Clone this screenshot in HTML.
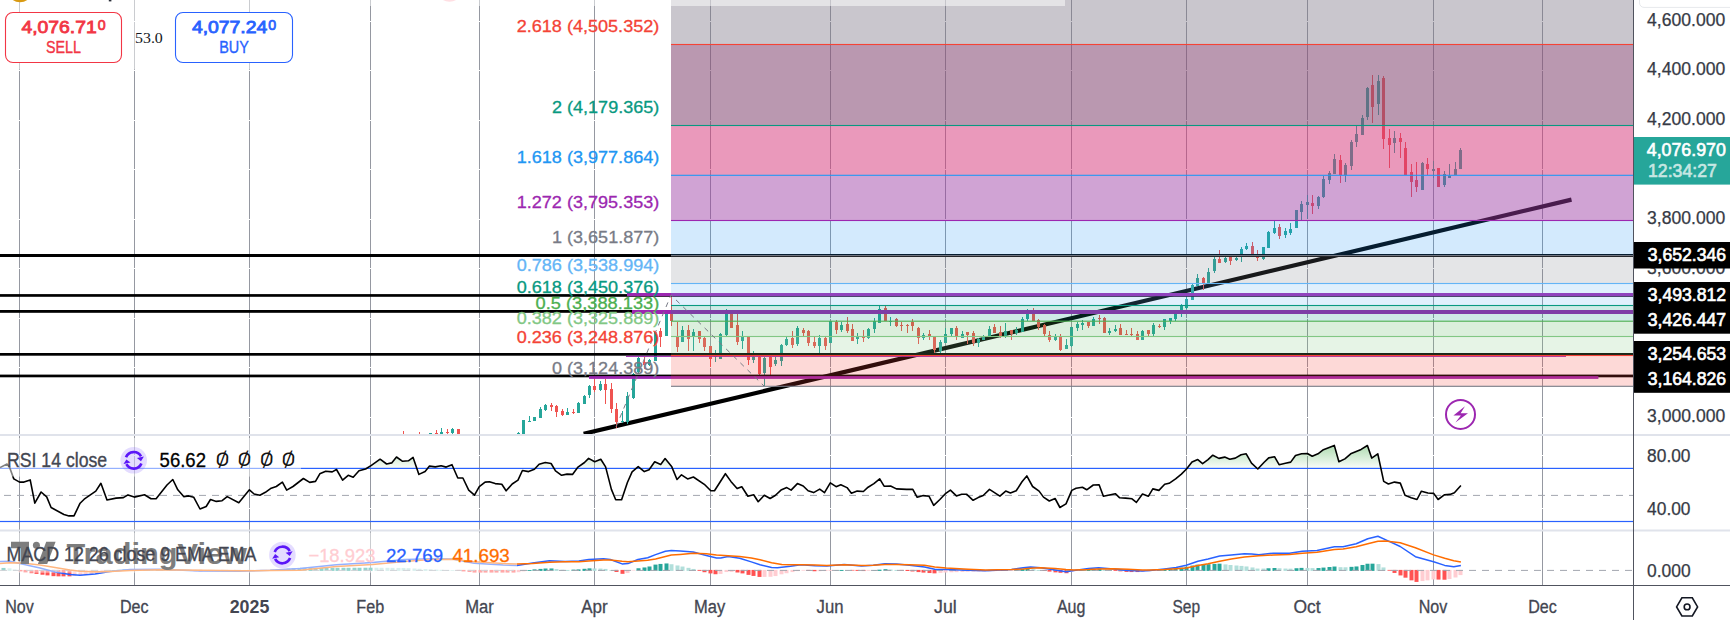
<!DOCTYPE html>
<html lang="en"><head><meta charset="utf-8"><title>Chart</title>
<style>html,body{margin:0;padding:0;background:#fff;overflow:hidden}svg{display:block}</style></head>
<body>
<svg width="1730" height="620" viewBox="0 0 1730 620" shape-rendering="auto">
<defs>
<linearGradient id="rsig" x1="0" y1="436" x2="0" y2="468.5" gradientUnits="userSpaceOnUse"><stop offset="0" stop-color="#4caf50" stop-opacity="0.62"/><stop offset="1" stop-color="#4caf50" stop-opacity="0.03"/></linearGradient>
<clipPath id="cpMain"><rect x="0" y="0" width="1633" height="434"/></clipPath>
<clipPath id="cpRsi"><rect x="0" y="436" width="1633" height="94"/></clipPath>
<clipPath id="cpRsiTop"><rect x="0" y="436" width="1633" height="32.4"/></clipPath>
<clipPath id="cpMacd"><rect x="0" y="531" width="1633" height="54"/></clipPath>
</defs>
<rect width="1730" height="620" fill="#fff"/>
<rect x="19" y="0" width="1" height="585" fill="#9598a1"/>
<rect x="134" y="0" width="1" height="585" fill="#9598a1"/>
<rect x="249" y="0" width="1" height="585" fill="#9598a1"/>
<rect x="370" y="0" width="1" height="585" fill="#9598a1"/>
<rect x="479" y="0" width="1" height="585" fill="#9598a1"/>
<rect x="594" y="0" width="1" height="585" fill="#9598a1"/>
<rect x="710" y="0" width="1" height="585" fill="#9598a1"/>
<rect x="830" y="0" width="1" height="585" fill="#9598a1"/>
<rect x="945" y="0" width="1" height="585" fill="#9598a1"/>
<rect x="1071" y="0" width="1" height="585" fill="#9598a1"/>
<rect x="1186" y="0" width="1" height="585" fill="#9598a1"/>
<rect x="1307" y="0" width="1" height="585" fill="#9598a1"/>
<rect x="1433" y="0" width="1" height="585" fill="#9598a1"/>
<rect x="1542" y="0" width="1" height="585" fill="#9598a1"/>
<rect x="0" y="417" width="1633" height="1" fill="#fff"/>
<rect x="0" y="367" width="1633" height="1" fill="#fff"/>
<rect x="0" y="318" width="1633" height="1" fill="#fff"/>
<rect x="0" y="268" width="1633" height="1" fill="#fff"/>
<rect x="0" y="219" width="1633" height="1" fill="#fff"/>
<rect x="0" y="169" width="1633" height="1" fill="#fff"/>
<rect x="0" y="120" width="1633" height="1" fill="#fff"/>
<rect x="0" y="70" width="1633" height="1" fill="#fff"/>
<rect x="0" y="21" width="1633" height="1" fill="#fff"/>
<rect x="0" y="455" width="1633" height="1" fill="#fff"/>
<rect x="0" y="508" width="1633" height="1" fill="#fff"/>
<g clip-path="url(#cpMain)">
<line x1="583.6" y1="433.8" x2="1571.5" y2="199.66" stroke="#000" stroke-width="4.2" stroke-linecap="butt"/>
<g shape-rendering="crispEdges">
<rect x="403" y="431" width="1" height="3" fill="#ef5350"/>
<rect x="419" y="432" width="1" height="2" fill="#ef5350"/>
<rect x="430" y="433" width="1" height="1" fill="#26a69a"/>
<rect x="429" y="433" width="3" height="1" fill="#26a69a"/>
<rect x="436" y="430" width="1" height="4" fill="#ef5350"/>
<rect x="435" y="433" width="3" height="1" fill="#ef5350"/>
<rect x="441" y="428" width="1" height="6" fill="#26a69a"/>
<rect x="440" y="432" width="3" height="2" fill="#26a69a"/>
<rect x="447" y="429" width="1" height="5" fill="#ef5350"/>
<rect x="446" y="432" width="3" height="1" fill="#ef5350"/>
<rect x="452" y="428" width="1" height="6" fill="#26a69a"/>
<rect x="451" y="429" width="3" height="4" fill="#26a69a"/>
<rect x="458" y="429" width="1" height="5" fill="#ef5350"/>
<rect x="457" y="429" width="3" height="5" fill="#ef5350"/>
<rect x="518" y="432" width="1" height="2" fill="#26a69a"/>
<rect x="517" y="433" width="3" height="1" fill="#26a69a"/>
<rect x="523" y="420" width="1" height="14" fill="#26a69a"/>
<rect x="522" y="420" width="3" height="14" fill="#26a69a"/>
<rect x="529" y="416" width="1" height="6" fill="#26a69a"/>
<rect x="528" y="421" width="3" height="1" fill="#26a69a"/>
<rect x="534" y="417" width="1" height="4" fill="#26a69a"/>
<rect x="533" y="417" width="3" height="4" fill="#26a69a"/>
<rect x="540" y="407" width="1" height="11" fill="#26a69a"/>
<rect x="539" y="409" width="3" height="9" fill="#26a69a"/>
<rect x="545" y="404" width="1" height="7" fill="#26a69a"/>
<rect x="544" y="405" width="3" height="5" fill="#26a69a"/>
<rect x="551" y="403" width="1" height="8" fill="#ef5350"/>
<rect x="550" y="405" width="3" height="1.5" fill="#ef5350"/>
<rect x="556" y="405" width="1" height="12" fill="#ef5350"/>
<rect x="555" y="406" width="3" height="6" fill="#ef5350"/>
<rect x="562" y="409" width="1" height="7" fill="#ef5350"/>
<rect x="561" y="411" width="3" height="4" fill="#ef5350"/>
<rect x="567" y="408" width="1" height="7" fill="#26a69a"/>
<rect x="566" y="412" width="3" height="3" fill="#26a69a"/>
<rect x="573" y="409" width="1" height="5" fill="#ef5350"/>
<rect x="572" y="412" width="3" height="1" fill="#ef5350"/>
<rect x="578" y="402" width="1" height="11" fill="#26a69a"/>
<rect x="577" y="403" width="3" height="10" fill="#26a69a"/>
<rect x="584" y="395" width="1" height="9" fill="#26a69a"/>
<rect x="583" y="396" width="3" height="8" fill="#26a69a"/>
<rect x="589" y="385" width="1" height="13" fill="#26a69a"/>
<rect x="588" y="386" width="3" height="9" fill="#26a69a"/>
<rect x="594" y="379" width="1" height="13" fill="#ef5350"/>
<rect x="593" y="386" width="3" height="4" fill="#ef5350"/>
<rect x="600" y="381" width="1" height="10" fill="#26a69a"/>
<rect x="599" y="384" width="3" height="6" fill="#26a69a"/>
<rect x="605" y="379" width="1" height="25" fill="#ef5350"/>
<rect x="604" y="384" width="3" height="6" fill="#ef5350"/>
<rect x="611" y="383" width="1" height="30" fill="#ef5350"/>
<rect x="610" y="389" width="3" height="20" fill="#ef5350"/>
<rect x="616" y="403" width="1" height="25" fill="#ef5350"/>
<rect x="615" y="409" width="3" height="13" fill="#ef5350"/>
<rect x="622" y="411" width="1" height="12" fill="#26a69a"/>
<rect x="621" y="421" width="3" height="1" fill="#26a69a"/>
<rect x="627" y="392" width="1" height="32" fill="#26a69a"/>
<rect x="626" y="396" width="3" height="26" fill="#26a69a"/>
<rect x="633" y="373" width="1" height="26" fill="#26a69a"/>
<rect x="632" y="374" width="3" height="24" fill="#26a69a"/>
<rect x="638" y="357" width="1" height="17" fill="#26a69a"/>
<rect x="637" y="358" width="3" height="14" fill="#26a69a"/>
<rect x="644" y="357" width="1" height="12" fill="#ef5350"/>
<rect x="643" y="362" width="3" height="3" fill="#ef5350"/>
<rect x="649" y="359" width="1" height="7" fill="#26a69a"/>
<rect x="648" y="360" width="3" height="5" fill="#26a69a"/>
<rect x="655" y="331" width="1" height="30" fill="#26a69a"/>
<rect x="654" y="332" width="3" height="29" fill="#26a69a"/>
<rect x="660" y="328" width="1" height="19" fill="#ef5350"/>
<rect x="659" y="331" width="3" height="6" fill="#ef5350"/>
<rect x="666" y="311" width="1" height="25" fill="#26a69a"/>
<rect x="665" y="314" width="3" height="22" fill="#26a69a"/>
<rect x="671" y="296" width="1" height="30" fill="#ef5350"/>
<rect x="670" y="314" width="3" height="7" fill="#ef5350"/>
<rect x="677" y="322" width="1" height="30" fill="#ef5350"/>
<rect x="676" y="337" width="3" height="10" fill="#ef5350"/>
<rect x="682" y="326" width="1" height="16" fill="#26a69a"/>
<rect x="681" y="330" width="3" height="12" fill="#26a69a"/>
<rect x="688" y="325" width="1" height="26" fill="#ef5350"/>
<rect x="687" y="330" width="3" height="9" fill="#ef5350"/>
<rect x="693" y="329" width="1" height="22" fill="#26a69a"/>
<rect x="692" y="332" width="3" height="5" fill="#26a69a"/>
<rect x="699" y="331" width="1" height="12" fill="#ef5350"/>
<rect x="698" y="331" width="3" height="8" fill="#ef5350"/>
<rect x="704" y="336" width="1" height="15" fill="#ef5350"/>
<rect x="703" y="338" width="3" height="9" fill="#ef5350"/>
<rect x="710" y="346" width="1" height="21" fill="#ef5350"/>
<rect x="709" y="346" width="3" height="13" fill="#ef5350"/>
<rect x="715" y="350" width="1" height="12" fill="#26a69a"/>
<rect x="714" y="354" width="3" height="3" fill="#26a69a"/>
<rect x="720" y="333" width="1" height="26" fill="#26a69a"/>
<rect x="719" y="334" width="3" height="25" fill="#26a69a"/>
<rect x="726" y="309" width="1" height="27" fill="#26a69a"/>
<rect x="725" y="314" width="3" height="21" fill="#26a69a"/>
<rect x="731" y="311" width="1" height="17" fill="#ef5350"/>
<rect x="730" y="314" width="3" height="14" fill="#ef5350"/>
<rect x="737" y="314" width="1" height="31" fill="#ef5350"/>
<rect x="736" y="325" width="3" height="17" fill="#ef5350"/>
<rect x="742" y="331" width="1" height="18" fill="#26a69a"/>
<rect x="741" y="336.5" width="3" height="4.5" fill="#26a69a"/>
<rect x="748" y="336" width="1" height="29" fill="#ef5350"/>
<rect x="747" y="337" width="3" height="23" fill="#ef5350"/>
<rect x="753" y="351" width="1" height="12" fill="#26a69a"/>
<rect x="752" y="357" width="3" height="3" fill="#26a69a"/>
<rect x="759" y="356" width="1" height="19" fill="#ef5350"/>
<rect x="758" y="357" width="3" height="16.5" fill="#ef5350"/>
<rect x="764" y="357" width="1" height="29" fill="#26a69a"/>
<rect x="763" y="358" width="3" height="15" fill="#26a69a"/>
<rect x="770" y="355" width="1" height="20" fill="#ef5350"/>
<rect x="769" y="357" width="3" height="10" fill="#ef5350"/>
<rect x="775" y="357" width="1" height="9" fill="#26a69a"/>
<rect x="774" y="360" width="3" height="4" fill="#26a69a"/>
<rect x="781" y="344" width="1" height="22" fill="#26a69a"/>
<rect x="780" y="345" width="3" height="16" fill="#26a69a"/>
<rect x="786" y="337" width="1" height="9" fill="#26a69a"/>
<rect x="785" y="338.5" width="3" height="6.5" fill="#26a69a"/>
<rect x="792" y="331" width="1" height="17" fill="#ef5350"/>
<rect x="791" y="338" width="3" height="7" fill="#ef5350"/>
<rect x="797" y="326" width="1" height="20" fill="#26a69a"/>
<rect x="796" y="328" width="3" height="16" fill="#26a69a"/>
<rect x="803" y="328" width="1" height="8" fill="#ef5350"/>
<rect x="802" y="330" width="3" height="3" fill="#ef5350"/>
<rect x="808" y="330" width="1" height="16" fill="#ef5350"/>
<rect x="807" y="331" width="3" height="12" fill="#ef5350"/>
<rect x="814" y="337" width="1" height="11" fill="#ef5350"/>
<rect x="813" y="342" width="3" height="4" fill="#ef5350"/>
<rect x="819" y="335" width="1" height="18" fill="#26a69a"/>
<rect x="818" y="338" width="3" height="8" fill="#26a69a"/>
<rect x="825" y="337" width="1" height="13" fill="#ef5350"/>
<rect x="824" y="338" width="3" height="8" fill="#ef5350"/>
<rect x="830" y="321" width="1" height="22" fill="#26a69a"/>
<rect x="829" y="321" width="3" height="22" fill="#26a69a"/>
<rect x="836" y="320" width="1" height="14" fill="#ef5350"/>
<rect x="835" y="322" width="3" height="8" fill="#ef5350"/>
<rect x="841" y="322" width="1" height="10" fill="#26a69a"/>
<rect x="840" y="325" width="3" height="5" fill="#26a69a"/>
<rect x="847" y="317" width="1" height="16" fill="#ef5350"/>
<rect x="846" y="324" width="3" height="7" fill="#ef5350"/>
<rect x="852" y="324" width="1" height="17" fill="#ef5350"/>
<rect x="851" y="329" width="3" height="12" fill="#ef5350"/>
<rect x="857" y="333" width="1" height="11" fill="#26a69a"/>
<rect x="856" y="336.5" width="3" height="2.5" fill="#26a69a"/>
<rect x="863" y="330" width="1" height="12" fill="#ef5350"/>
<rect x="862" y="336.5" width="3" height="1.5" fill="#ef5350"/>
<rect x="868" y="328" width="1" height="11" fill="#26a69a"/>
<rect x="867" y="329" width="3" height="8.5" fill="#26a69a"/>
<rect x="874" y="318" width="1" height="15" fill="#26a69a"/>
<rect x="873" y="321" width="3" height="8" fill="#26a69a"/>
<rect x="879" y="306" width="1" height="17" fill="#26a69a"/>
<rect x="878" y="309" width="3" height="14" fill="#26a69a"/>
<rect x="885" y="306" width="1" height="15" fill="#ef5350"/>
<rect x="884" y="308" width="3" height="13" fill="#ef5350"/>
<rect x="890" y="317" width="1" height="9" fill="#26a69a"/>
<rect x="889" y="321" width="3" height="1" fill="#26a69a"/>
<rect x="896" y="318" width="1" height="9" fill="#ef5350"/>
<rect x="895" y="319" width="3" height="7" fill="#ef5350"/>
<rect x="901" y="322" width="1" height="9" fill="#ef5350"/>
<rect x="900" y="325" width="3" height="1" fill="#ef5350"/>
<rect x="907" y="324" width="1" height="9" fill="#ef5350"/>
<rect x="906" y="325" width="3" height="1" fill="#ef5350"/>
<rect x="912" y="319" width="1" height="12" fill="#ef5350"/>
<rect x="911" y="322" width="3" height="4" fill="#ef5350"/>
<rect x="918" y="327" width="1" height="17" fill="#ef5350"/>
<rect x="917" y="328" width="3" height="9.5" fill="#ef5350"/>
<rect x="923" y="333" width="1" height="7" fill="#26a69a"/>
<rect x="922" y="335" width="3" height="3" fill="#26a69a"/>
<rect x="929" y="330" width="1" height="10" fill="#ef5350"/>
<rect x="928" y="334" width="3" height="2" fill="#ef5350"/>
<rect x="934" y="337" width="1" height="16" fill="#ef5350"/>
<rect x="933" y="337" width="3" height="13" fill="#ef5350"/>
<rect x="940" y="340" width="1" height="13" fill="#26a69a"/>
<rect x="939" y="342" width="3" height="9" fill="#26a69a"/>
<rect x="945" y="328" width="1" height="15" fill="#26a69a"/>
<rect x="944" y="333.5" width="3" height="9.5" fill="#26a69a"/>
<rect x="951" y="328" width="1" height="8" fill="#26a69a"/>
<rect x="950" y="328" width="3" height="5.5" fill="#26a69a"/>
<rect x="956" y="326" width="1" height="14" fill="#ef5350"/>
<rect x="955" y="328" width="3" height="9" fill="#ef5350"/>
<rect x="962" y="331" width="1" height="7" fill="#26a69a"/>
<rect x="961" y="334" width="3" height="4" fill="#26a69a"/>
<rect x="967" y="332" width="1" height="12" fill="#ef5350"/>
<rect x="966" y="332" width="3" height="3" fill="#ef5350"/>
<rect x="973" y="331" width="1" height="15" fill="#ef5350"/>
<rect x="972" y="333" width="3" height="10" fill="#ef5350"/>
<rect x="978" y="338" width="1" height="9" fill="#26a69a"/>
<rect x="977" y="339" width="3" height="4" fill="#26a69a"/>
<rect x="983" y="335" width="1" height="5" fill="#26a69a"/>
<rect x="982" y="337" width="3" height="3" fill="#26a69a"/>
<rect x="989" y="326" width="1" height="10" fill="#26a69a"/>
<rect x="988" y="329" width="3" height="7" fill="#26a69a"/>
<rect x="994" y="324" width="1" height="9" fill="#ef5350"/>
<rect x="993" y="327" width="3" height="6" fill="#ef5350"/>
<rect x="1000" y="326" width="1" height="12" fill="#ef5350"/>
<rect x="999" y="332" width="3" height="4" fill="#ef5350"/>
<rect x="1005" y="323" width="1" height="15" fill="#26a69a"/>
<rect x="1004" y="331" width="3" height="5" fill="#26a69a"/>
<rect x="1011" y="330" width="1" height="10" fill="#ef5350"/>
<rect x="1010" y="330" width="3" height="4" fill="#ef5350"/>
<rect x="1016" y="327" width="1" height="8" fill="#26a69a"/>
<rect x="1015" y="330" width="3" height="3" fill="#26a69a"/>
<rect x="1022" y="317" width="1" height="14.5" fill="#26a69a"/>
<rect x="1021" y="319" width="3" height="12.5" fill="#26a69a"/>
<rect x="1027" y="309" width="1" height="12" fill="#26a69a"/>
<rect x="1026" y="312" width="3" height="7" fill="#26a69a"/>
<rect x="1033" y="308" width="1" height="13" fill="#ef5350"/>
<rect x="1032" y="312" width="3" height="9" fill="#ef5350"/>
<rect x="1038" y="319" width="1" height="11" fill="#ef5350"/>
<rect x="1037" y="320" width="3" height="7" fill="#ef5350"/>
<rect x="1044" y="324" width="1" height="12" fill="#ef5350"/>
<rect x="1043" y="325" width="3" height="8.5" fill="#ef5350"/>
<rect x="1049" y="331" width="1" height="11" fill="#ef5350"/>
<rect x="1048" y="335" width="3" height="5" fill="#ef5350"/>
<rect x="1055" y="334" width="1" height="7" fill="#26a69a"/>
<rect x="1054" y="337" width="3" height="3" fill="#26a69a"/>
<rect x="1060" y="334" width="1" height="17" fill="#ef5350"/>
<rect x="1059" y="337" width="3" height="13" fill="#ef5350"/>
<rect x="1066" y="339" width="1" height="10" fill="#26a69a"/>
<rect x="1065" y="345" width="3" height="4" fill="#26a69a"/>
<rect x="1071" y="327" width="1" height="20" fill="#26a69a"/>
<rect x="1070" y="327" width="3" height="19" fill="#26a69a"/>
<rect x="1077" y="322" width="1" height="9" fill="#26a69a"/>
<rect x="1076" y="324" width="3" height="4" fill="#26a69a"/>
<rect x="1082" y="320" width="1" height="10" fill="#26a69a"/>
<rect x="1081" y="323" width="3" height="2" fill="#26a69a"/>
<rect x="1088" y="322" width="1" height="6" fill="#ef5350"/>
<rect x="1087" y="322" width="3" height="4" fill="#ef5350"/>
<rect x="1093" y="317" width="1" height="9" fill="#26a69a"/>
<rect x="1092" y="319" width="3" height="7" fill="#26a69a"/>
<rect x="1099" y="315" width="1" height="9" fill="#ef5350"/>
<rect x="1098" y="318" width="3" height="1" fill="#ef5350"/>
<rect x="1104" y="317" width="1" height="16" fill="#ef5350"/>
<rect x="1103" y="318" width="3" height="15" fill="#ef5350"/>
<rect x="1109" y="328" width="1" height="7" fill="#26a69a"/>
<rect x="1108" y="331" width="3" height="2" fill="#26a69a"/>
<rect x="1115" y="325" width="1" height="7" fill="#26a69a"/>
<rect x="1114" y="329" width="3" height="2" fill="#26a69a"/>
<rect x="1120" y="324" width="1" height="11" fill="#ef5350"/>
<rect x="1119" y="328" width="3" height="7" fill="#ef5350"/>
<rect x="1126" y="330" width="1" height="5" fill="#ef5350"/>
<rect x="1125" y="334" width="3" height="1" fill="#ef5350"/>
<rect x="1131" y="328" width="1" height="8" fill="#ef5350"/>
<rect x="1130" y="334" width="3" height="1" fill="#ef5350"/>
<rect x="1137" y="331" width="1" height="9" fill="#ef5350"/>
<rect x="1136" y="334" width="3" height="6" fill="#ef5350"/>
<rect x="1142" y="330" width="1" height="10" fill="#26a69a"/>
<rect x="1141" y="331" width="3" height="9" fill="#26a69a"/>
<rect x="1148" y="330" width="1" height="6" fill="#ef5350"/>
<rect x="1147" y="330" width="3" height="4" fill="#ef5350"/>
<rect x="1153" y="323" width="1" height="13" fill="#26a69a"/>
<rect x="1152" y="325" width="3" height="9" fill="#26a69a"/>
<rect x="1159" y="324" width="1" height="4" fill="#ef5350"/>
<rect x="1158" y="326" width="3" height="1" fill="#ef5350"/>
<rect x="1164" y="319" width="1" height="11" fill="#26a69a"/>
<rect x="1163" y="319" width="3" height="8" fill="#26a69a"/>
<rect x="1170" y="318" width="1" height="6" fill="#26a69a"/>
<rect x="1169" y="318" width="3" height="3" fill="#26a69a"/>
<rect x="1175" y="312" width="1" height="9" fill="#26a69a"/>
<rect x="1174" y="313" width="3" height="6" fill="#26a69a"/>
<rect x="1181" y="304" width="1" height="13" fill="#26a69a"/>
<rect x="1180" y="305.5" width="3" height="5.5" fill="#26a69a"/>
<rect x="1186" y="297" width="1" height="12" fill="#26a69a"/>
<rect x="1185" y="298.5" width="3" height="9" fill="#26a69a"/>
<rect x="1192" y="284" width="1" height="15.5" fill="#26a69a"/>
<rect x="1191" y="285" width="3" height="14.5" fill="#26a69a"/>
<rect x="1197" y="274" width="1" height="12" fill="#26a69a"/>
<rect x="1196" y="278" width="3" height="8" fill="#26a69a"/>
<rect x="1203" y="277" width="1" height="13" fill="#ef5350"/>
<rect x="1202" y="278" width="3" height="5" fill="#ef5350"/>
<rect x="1208" y="268" width="1" height="15" fill="#26a69a"/>
<rect x="1207" y="272" width="3" height="11" fill="#26a69a"/>
<rect x="1214" y="257" width="1" height="16" fill="#26a69a"/>
<rect x="1213" y="259" width="3" height="12" fill="#26a69a"/>
<rect x="1219" y="250" width="1" height="13" fill="#ef5350"/>
<rect x="1218" y="259" width="3" height="4" fill="#ef5350"/>
<rect x="1225" y="257" width="1" height="6" fill="#26a69a"/>
<rect x="1224" y="258" width="3" height="4" fill="#26a69a"/>
<rect x="1230" y="257" width="1" height="8" fill="#ef5350"/>
<rect x="1229" y="257" width="3" height="4" fill="#ef5350"/>
<rect x="1236" y="257" width="1" height="4" fill="#26a69a"/>
<rect x="1235" y="258" width="3" height="2" fill="#26a69a"/>
<rect x="1241" y="247" width="1" height="15" fill="#26a69a"/>
<rect x="1240" y="249" width="3" height="8" fill="#26a69a"/>
<rect x="1246" y="243" width="1" height="7" fill="#26a69a"/>
<rect x="1245" y="246" width="3" height="2.5" fill="#26a69a"/>
<rect x="1252" y="242" width="1" height="12" fill="#ef5350"/>
<rect x="1251" y="246" width="3" height="8" fill="#ef5350"/>
<rect x="1257" y="250" width="1" height="11" fill="#ef5350"/>
<rect x="1256" y="253.5" width="3" height="4.5" fill="#ef5350"/>
<rect x="1263" y="247" width="1" height="13" fill="#26a69a"/>
<rect x="1262" y="247" width="3" height="12" fill="#26a69a"/>
<rect x="1268" y="231" width="1" height="17" fill="#26a69a"/>
<rect x="1267" y="232" width="3" height="16" fill="#26a69a"/>
<rect x="1274" y="221" width="1" height="13" fill="#26a69a"/>
<rect x="1273" y="228" width="3" height="5" fill="#26a69a"/>
<rect x="1279" y="224" width="1" height="15" fill="#ef5350"/>
<rect x="1278" y="227" width="3" height="9" fill="#ef5350"/>
<rect x="1285" y="228" width="1" height="10" fill="#26a69a"/>
<rect x="1284" y="231" width="3" height="4" fill="#26a69a"/>
<rect x="1290" y="223" width="1" height="12" fill="#26a69a"/>
<rect x="1289" y="229" width="3" height="4" fill="#26a69a"/>
<rect x="1296" y="210" width="1" height="18" fill="#26a69a"/>
<rect x="1295" y="210" width="3" height="18" fill="#26a69a"/>
<rect x="1301" y="201" width="1" height="19" fill="#26a69a"/>
<rect x="1300" y="204" width="3" height="8" fill="#26a69a"/>
<rect x="1307" y="195" width="1" height="23.5" fill="#26a69a"/>
<rect x="1306" y="202" width="3" height="3" fill="#26a69a"/>
<rect x="1312" y="195" width="1" height="19" fill="#ef5350"/>
<rect x="1311" y="203" width="3" height="3" fill="#ef5350"/>
<rect x="1318" y="196" width="1" height="13" fill="#26a69a"/>
<rect x="1317" y="197" width="3" height="9" fill="#26a69a"/>
<rect x="1323" y="176" width="1" height="22" fill="#26a69a"/>
<rect x="1322" y="179" width="3" height="18" fill="#26a69a"/>
<rect x="1329" y="171" width="1" height="13" fill="#26a69a"/>
<rect x="1328" y="173" width="3" height="7" fill="#26a69a"/>
<rect x="1334" y="154" width="1" height="20" fill="#26a69a"/>
<rect x="1333" y="159" width="3" height="15" fill="#26a69a"/>
<rect x="1340" y="155" width="1" height="28" fill="#ef5350"/>
<rect x="1339" y="160" width="3" height="15" fill="#ef5350"/>
<rect x="1345" y="163" width="1" height="19" fill="#26a69a"/>
<rect x="1344" y="165" width="3" height="10" fill="#26a69a"/>
<rect x="1351" y="140" width="1" height="29.5" fill="#26a69a"/>
<rect x="1350" y="142" width="3" height="23.5" fill="#26a69a"/>
<rect x="1356" y="126" width="1" height="21" fill="#26a69a"/>
<rect x="1355" y="134" width="3" height="8" fill="#26a69a"/>
<rect x="1362" y="115" width="1" height="20" fill="#26a69a"/>
<rect x="1361" y="118" width="3" height="17" fill="#26a69a"/>
<rect x="1367" y="87" width="1" height="32.5" fill="#26a69a"/>
<rect x="1366" y="88" width="3" height="28.5" fill="#26a69a"/>
<rect x="1372" y="75" width="1" height="48" fill="#ef5350"/>
<rect x="1371" y="85" width="3" height="22" fill="#ef5350"/>
<rect x="1378" y="75" width="1" height="40" fill="#26a69a"/>
<rect x="1377" y="81" width="3" height="23" fill="#26a69a"/>
<rect x="1383" y="76" width="1" height="73" fill="#ef5350"/>
<rect x="1382" y="78" width="3" height="61" fill="#ef5350"/>
<rect x="1389" y="129" width="1" height="39" fill="#ef5350"/>
<rect x="1388" y="138" width="3" height="7" fill="#ef5350"/>
<rect x="1394" y="131" width="1" height="22" fill="#26a69a"/>
<rect x="1393" y="138" width="3" height="5" fill="#26a69a"/>
<rect x="1400" y="133" width="1" height="25" fill="#ef5350"/>
<rect x="1399" y="138" width="3" height="4" fill="#ef5350"/>
<rect x="1405" y="142" width="1" height="33" fill="#ef5350"/>
<rect x="1404" y="148" width="3" height="27" fill="#ef5350"/>
<rect x="1411" y="164" width="1" height="33" fill="#ef5350"/>
<rect x="1410" y="172" width="3" height="10" fill="#ef5350"/>
<rect x="1416" y="162" width="1" height="30" fill="#ef5350"/>
<rect x="1415" y="180" width="3" height="7" fill="#ef5350"/>
<rect x="1422" y="162" width="1" height="28" fill="#26a69a"/>
<rect x="1421" y="163" width="3" height="27" fill="#26a69a"/>
<rect x="1427" y="158" width="1" height="17" fill="#ef5350"/>
<rect x="1426" y="164" width="3" height="4.5" fill="#ef5350"/>
<rect x="1433" y="161" width="1" height="17" fill="#26a69a"/>
<rect x="1432" y="169" width="3" height="1.5" fill="#26a69a"/>
<rect x="1438" y="168" width="1" height="19" fill="#ef5350"/>
<rect x="1437" y="168" width="3" height="19" fill="#ef5350"/>
<rect x="1444" y="171" width="1" height="16" fill="#26a69a"/>
<rect x="1443" y="174" width="3" height="11" fill="#26a69a"/>
<rect x="1449" y="164" width="1" height="14" fill="#26a69a"/>
<rect x="1448" y="176" width="3" height="2" fill="#26a69a"/>
<rect x="1455" y="162" width="1" height="13" fill="#26a69a"/>
<rect x="1454" y="169" width="3" height="6" fill="#26a69a"/>
<rect x="1460" y="148" width="1" height="20.5" fill="#26a69a"/>
<rect x="1459" y="150" width="3" height="18.5" fill="#26a69a"/>
</g>
<rect x="0" y="254" width="1633" height="3" fill="#000"/>
<rect x="0" y="294.1" width="1633" height="2.7" fill="#000"/>
<rect x="0" y="310" width="1633" height="2.8" fill="#000"/>
<rect x="0" y="353" width="1633" height="2.7" fill="#000"/>
<rect x="0" y="374.6" width="1633" height="2.7" fill="#000"/>
<rect x="627" y="293" width="1006" height="3.2" fill="#9c27b0"/>
<rect x="632" y="310" width="1001" height="4" fill="#9c27b0"/>
<rect x="626" y="355.8" width="940" height="1.1" fill="#9c27b0"/>
<rect x="589" y="376.1" width="1009.4000000000001" height="2.8" fill="#9c27b0"/>
<rect x="671" y="0" width="962" height="44.5" fill="rgba(123,116,133,0.41)"/>
<rect x="671" y="44.5" width="962" height="81" fill="rgba(136,77,119,0.58)"/>
<rect x="671" y="125.5" width="962" height="49.8" fill="rgba(214,55,122,0.51)"/>
<rect x="671" y="175.3" width="962" height="45.2" fill="rgba(155,59,163,0.47)"/>
<rect x="671" y="220.5" width="962" height="35.1" fill="rgba(33,150,243,0.195)"/>
<rect x="671" y="255.6" width="962" height="27.9" fill="rgba(120,123,134,0.2)"/>
<rect x="671" y="283.5" width="962" height="22" fill="rgba(100,181,246,0.2)"/>
<rect x="671" y="305.5" width="962" height="15.7" fill="rgba(8,153,129,0.2)"/>
<rect x="671" y="321.2" width="962" height="15.3" fill="rgba(76,175,80,0.2)"/>
<rect x="671" y="336.5" width="962" height="19" fill="rgba(129,199,132,0.2)"/>
<rect x="671" y="355.5" width="962" height="30.8" fill="rgba(244,67,54,0.2)"/>
<rect x="671" y="43.95" width="962" height="1.1" fill="#f44336"/>
<rect x="671" y="124.95" width="962" height="1.1" fill="#089981"/>
<rect x="671" y="174.75" width="962" height="1.1" fill="#2196f3"/>
<rect x="671" y="219.95" width="962" height="1.1" fill="#9c27b0"/>
<rect x="671" y="255.05" width="962" height="1.1" fill="#787b86"/>
<rect x="671" y="282.95" width="962" height="1.1" fill="#64b5f6"/>
<rect x="671" y="304.95" width="962" height="1.1" fill="#089981"/>
<rect x="671" y="320.65" width="962" height="1.1" fill="#4caf50"/>
<rect x="671" y="335.95" width="962" height="1.1" fill="#81c784"/>
<rect x="671" y="354.95" width="962" height="1.1" fill="#f44336"/>
<rect x="671" y="385.75" width="962" height="1.1" fill="#787b86"/>
<path d="M616 427 L671 295 L764 386" fill="none" stroke="#787b86" stroke-width="1" stroke-dasharray="5 5"/>
</g>
<text x="659.3" y="31.7" font-size="17.0" fill="#f44336" font-family="Liberation Sans, Arial, sans-serif" text-anchor="end" textLength="142.6" lengthAdjust="spacingAndGlyphs" stroke="#f44336" stroke-width="0.3">2.618 (4,505.352)</text>
<text x="659.3" y="113.1" font-size="17.0" fill="#089981" font-family="Liberation Sans, Arial, sans-serif" text-anchor="end" textLength="107.3" lengthAdjust="spacingAndGlyphs" stroke="#089981" stroke-width="0.3">2 (4,179.365)</text>
<text x="659.3" y="163.1" font-size="17.0" fill="#2196f3" font-family="Liberation Sans, Arial, sans-serif" text-anchor="end" textLength="142.6" lengthAdjust="spacingAndGlyphs" stroke="#2196f3" stroke-width="0.3">1.618 (3,977.864)</text>
<text x="659.3" y="207.6" font-size="17.0" fill="#9c27b0" font-family="Liberation Sans, Arial, sans-serif" text-anchor="end" textLength="142.6" lengthAdjust="spacingAndGlyphs" stroke="#9c27b0" stroke-width="0.3">1.272 (3,795.353)</text>
<text x="659.3" y="243.1" font-size="17.0" fill="#787b86" font-family="Liberation Sans, Arial, sans-serif" text-anchor="end" textLength="107.3" lengthAdjust="spacingAndGlyphs" stroke="#787b86" stroke-width="0.3">1 (3,651.877)</text>
<text x="659.3" y="271.1" font-size="17.0" fill="#64b5f6" font-family="Liberation Sans, Arial, sans-serif" text-anchor="end" textLength="142.6" lengthAdjust="spacingAndGlyphs" stroke="#64b5f6" stroke-width="0.3">0.786 (3,538.994)</text>
<text x="659.3" y="292.6" font-size="17.0" fill="#089981" font-family="Liberation Sans, Arial, sans-serif" text-anchor="end" textLength="142.6" lengthAdjust="spacingAndGlyphs" stroke="#089981" stroke-width="0.3">0.618 (3,450.376)</text>
<text x="659.3" y="308.6" font-size="17.0" fill="#4caf50" font-family="Liberation Sans, Arial, sans-serif" text-anchor="end" textLength="123.8" lengthAdjust="spacingAndGlyphs" stroke="#4caf50" stroke-width="0.3">0.5 (3,388.133)</text>
<text x="659.3" y="324.1" font-size="17.0" fill="#81c784" font-family="Liberation Sans, Arial, sans-serif" text-anchor="end" textLength="142.6" lengthAdjust="spacingAndGlyphs" stroke="#81c784" stroke-width="0.3">0.382 (3,325.889)</text>
<text x="659.3" y="343.1" font-size="17.0" fill="#f44336" font-family="Liberation Sans, Arial, sans-serif" text-anchor="end" textLength="142.6" lengthAdjust="spacingAndGlyphs" stroke="#f44336" stroke-width="0.3">0.236 (3,248.876)</text>
<text x="659.3" y="373.6" font-size="17.0" fill="#787b86" font-family="Liberation Sans, Arial, sans-serif" text-anchor="end" textLength="107.3" lengthAdjust="spacingAndGlyphs" stroke="#787b86" stroke-width="0.3">0 (3,124.389)</text>
<g stroke="#9c27b0" fill="none"><circle cx="1460.5" cy="414.4" r="14.5" stroke-width="2"/></g>
<path d="M1465 406.3 L1453.4 415.5 L1460.9 415.5 L1455.4 422.6 L1468 413.3 L1460.6 413.3 Z" fill="#9c27b0"/>
<g clip-path="url(#cpRsi)">
<g clip-path="url(#cpRsiTop)"><polygon points="0,468.4 0,467.6 7,464 9.4,466.9 13.8,478.9 19.6,482.1 24,482.1 30.2,479.9 34.8,503.2 41.1,492 46.7,496.9 51.1,507.5 63.9,514.5 69,515.9 74,515.9 80.1,503.2 84.2,499.2 95.8,491.1 100.9,483.3 107,500 116.1,498.1 123.4,497.6 128,494.9 134.3,497.1 144.5,494.7 151,498.8 156.1,498.8 167,485 172.8,479.5 177.8,489.8 183.7,496.6 188.7,495.9 193.8,497.3 200,509 206.2,506.5 210.5,499.5 216.3,501.4 222.1,500.7 227.2,496.6 238.8,502.7 249.4,489.8 254.1,494 259.9,495.2 265.4,492.3 270.5,488.6 276.3,486.5 282.4,482.1 286.7,490.1 293,486.5 303.4,478.5 309.7,482.4 315.5,481.4 319.8,473.8 325.7,471.2 332.2,471.9 336.5,469.5 342.6,480.2 348.2,475.3 353.2,477.3 359,470.8 365.6,469 371.4,465.4 380.1,459.2 386.6,464 391.7,462.9 396.5,457 402.6,461.3 408.4,460.8 413.1,457.4 418.9,474.4 425.1,471.5 429.5,466.1 435.3,466.9 441.1,465.8 446.2,467.1 452,464.7 457.8,478 462.9,478 468.7,490.1 474.5,495.2 479.3,486.7 485.1,482.1 489.4,481.7 495.2,483.6 501.8,484.3 506.1,490.8 512.2,484 518,480.2 522.4,470.5 528.6,471.6 534.4,469.3 539.1,464.2 545.3,462.5 551.1,463.5 555.5,470.9 561.6,475.3 567.1,474.1 572.5,474.4 578,467.1 584.5,462.5 588.6,458.4 594.7,461.8 600.8,459.3 605.6,466.9 611.4,489.4 615.7,499.8 621.6,499.8 627.4,482.5 632.1,471.9 638.2,466.6 644.3,471.6 649.1,469.8 654.7,461.8 660.7,464.4 665.1,458.6 671.6,466.4 677,479.5 681.5,474.8 687.6,478.9 693.4,477 704.3,484.3 710.8,490.8 714.5,490.8 725.4,473.7 730.9,481.4 737.1,488.6 741.8,486.7 747.9,496.2 753.7,494.7 758.2,501.7 764.3,495.2 770.1,498.5 775.2,495.5 781,490.1 786.8,487.6 791.1,490.1 797.4,483.6 803.2,486 808.1,490.8 813.6,492.6 819.7,489.1 824.5,492.7 830.3,482.8 836.1,486.7 840.8,484.7 847,487.6 851.4,493.3 857.2,491.1 863.4,491.5 868.1,487.2 873.9,483.6 879.7,478.8 884.1,486.2 890.6,486 896.4,488.9 906.6,489.4 912.8,489.4 917.2,497.3 923.3,495.6 929.1,496.3 933.7,505.3 939.9,499.5 945.8,493.3 950.4,490.1 956.4,495.9 961.7,494.2 966.5,494.2 973.1,500.3 978.1,497.6 983.2,495.5 989.5,489.4 999.9,496.2 1005.7,491.1 1010.4,493 1016.2,490.8 1022,481.7 1026.8,475.9 1032.6,486.5 1039.1,491.1 1043.5,497.1 1049.3,501 1055.1,498.5 1059.9,507.5 1066,503.9 1071.8,490.4 1076.1,488.3 1082.4,487.2 1086.7,489.8 1093.3,485 1099.1,484.7 1103.4,496.3 1115.3,493.7 1119.7,497.8 1125.5,498.1 1132,498.8 1136.4,502.4 1142.5,494 1148.3,496.3 1152.8,488.9 1158.9,490.4 1164.7,484.3 1169.1,483.3 1175.6,478.9 1181.4,474.1 1186.5,469 1192,462.1 1197.8,459.6 1202.6,463.7 1208,459.6 1212.8,455.2 1218.9,458.4 1224.7,457.1 1229.8,459.2 1235.3,458.1 1241.1,454.8 1246.2,453.8 1251.5,463.2 1257.8,469 1263.9,462.5 1268.7,457.9 1274.5,456.7 1279.1,464.7 1285.4,463.2 1290.7,462.1 1295.5,455.5 1301.6,453.8 1307.4,453.5 1312.2,456.3 1318,453.8 1323.4,449.7 1334.3,445.4 1338.9,461.8 1344.9,458.9 1350.7,453.8 1361.1,449.4 1367.4,445.5 1371.7,458.1 1377.8,453.8 1383.7,481.4 1388.4,484 1394.5,482.1 1400.3,483.1 1405,495.2 1411.2,497.8 1417,499.5 1421.4,491.2 1427.9,493 1433.7,493.4 1438.1,499.5 1444.3,494.9 1450,494.4 1454.4,492.7 1460.9,485.5 1460.9,468.4" fill="url(#rsig)"/></g>
<rect x="0" y="467.8" width="1633" height="1.2" fill="#2962ff"/>
<rect x="0" y="520.9" width="1633" height="1.2" fill="#2962ff"/>
<line x1="4" y1="495.4" x2="1633" y2="495.4" stroke="#a3a6af" stroke-width="1" stroke-dasharray="7 6"/>
<polyline points="0,467.6 7,464 9.4,466.9 13.8,478.9 19.6,482.1 24,482.1 30.2,479.9 34.8,503.2 41.1,492 46.7,496.9 51.1,507.5 63.9,514.5 69,515.9 74,515.9 80.1,503.2 84.2,499.2 95.8,491.1 100.9,483.3 107,500 116.1,498.1 123.4,497.6 128,494.9 134.3,497.1 144.5,494.7 151,498.8 156.1,498.8 167,485 172.8,479.5 177.8,489.8 183.7,496.6 188.7,495.9 193.8,497.3 200,509 206.2,506.5 210.5,499.5 216.3,501.4 222.1,500.7 227.2,496.6 238.8,502.7 249.4,489.8 254.1,494 259.9,495.2 265.4,492.3 270.5,488.6 276.3,486.5 282.4,482.1 286.7,490.1 293,486.5 303.4,478.5 309.7,482.4 315.5,481.4 319.8,473.8 325.7,471.2 332.2,471.9 336.5,469.5 342.6,480.2 348.2,475.3 353.2,477.3 359,470.8 365.6,469 371.4,465.4 380.1,459.2 386.6,464 391.7,462.9 396.5,457 402.6,461.3 408.4,460.8 413.1,457.4 418.9,474.4 425.1,471.5 429.5,466.1 435.3,466.9 441.1,465.8 446.2,467.1 452,464.7 457.8,478 462.9,478 468.7,490.1 474.5,495.2 479.3,486.7 485.1,482.1 489.4,481.7 495.2,483.6 501.8,484.3 506.1,490.8 512.2,484 518,480.2 522.4,470.5 528.6,471.6 534.4,469.3 539.1,464.2 545.3,462.5 551.1,463.5 555.5,470.9 561.6,475.3 567.1,474.1 572.5,474.4 578,467.1 584.5,462.5 588.6,458.4 594.7,461.8 600.8,459.3 605.6,466.9 611.4,489.4 615.7,499.8 621.6,499.8 627.4,482.5 632.1,471.9 638.2,466.6 644.3,471.6 649.1,469.8 654.7,461.8 660.7,464.4 665.1,458.6 671.6,466.4 677,479.5 681.5,474.8 687.6,478.9 693.4,477 704.3,484.3 710.8,490.8 714.5,490.8 725.4,473.7 730.9,481.4 737.1,488.6 741.8,486.7 747.9,496.2 753.7,494.7 758.2,501.7 764.3,495.2 770.1,498.5 775.2,495.5 781,490.1 786.8,487.6 791.1,490.1 797.4,483.6 803.2,486 808.1,490.8 813.6,492.6 819.7,489.1 824.5,492.7 830.3,482.8 836.1,486.7 840.8,484.7 847,487.6 851.4,493.3 857.2,491.1 863.4,491.5 868.1,487.2 873.9,483.6 879.7,478.8 884.1,486.2 890.6,486 896.4,488.9 906.6,489.4 912.8,489.4 917.2,497.3 923.3,495.6 929.1,496.3 933.7,505.3 939.9,499.5 945.8,493.3 950.4,490.1 956.4,495.9 961.7,494.2 966.5,494.2 973.1,500.3 978.1,497.6 983.2,495.5 989.5,489.4 999.9,496.2 1005.7,491.1 1010.4,493 1016.2,490.8 1022,481.7 1026.8,475.9 1032.6,486.5 1039.1,491.1 1043.5,497.1 1049.3,501 1055.1,498.5 1059.9,507.5 1066,503.9 1071.8,490.4 1076.1,488.3 1082.4,487.2 1086.7,489.8 1093.3,485 1099.1,484.7 1103.4,496.3 1115.3,493.7 1119.7,497.8 1125.5,498.1 1132,498.8 1136.4,502.4 1142.5,494 1148.3,496.3 1152.8,488.9 1158.9,490.4 1164.7,484.3 1169.1,483.3 1175.6,478.9 1181.4,474.1 1186.5,469 1192,462.1 1197.8,459.6 1202.6,463.7 1208,459.6 1212.8,455.2 1218.9,458.4 1224.7,457.1 1229.8,459.2 1235.3,458.1 1241.1,454.8 1246.2,453.8 1251.5,463.2 1257.8,469 1263.9,462.5 1268.7,457.9 1274.5,456.7 1279.1,464.7 1285.4,463.2 1290.7,462.1 1295.5,455.5 1301.6,453.8 1307.4,453.5 1312.2,456.3 1318,453.8 1323.4,449.7 1334.3,445.4 1338.9,461.8 1344.9,458.9 1350.7,453.8 1361.1,449.4 1367.4,445.5 1371.7,458.1 1377.8,453.8 1383.7,481.4 1388.4,484 1394.5,482.1 1400.3,483.1 1405,495.2 1411.2,497.8 1417,499.5 1421.4,491.2 1427.9,493 1433.7,493.4 1438.1,499.5 1444.3,494.9 1450,494.4 1454.4,492.7 1460.9,485.5" fill="none" stroke="#000" stroke-width="1.6" stroke-linejoin="round"/>
</g>
<g clip-path="url(#cpMacd)">
<g>
<rect x="1.5" y="567.93" width="4" height="2.97" fill="#26a69a"/>
<rect x="7.5" y="568.32" width="4" height="2.58" fill="#b2dfdb"/>
<rect x="12.5" y="569.57" width="4" height="1.33" fill="#b2dfdb"/>
<rect x="18.5" y="569.9" width="4" height="1.49" fill="#ff5252"/>
<rect x="23.5" y="569.9" width="4" height="2.41" fill="#ff5252"/>
<rect x="29.5" y="569.9" width="4" height="3.27" fill="#ff5252"/>
<rect x="34.5" y="569.9" width="4" height="3.99" fill="#ff5252"/>
<rect x="40.5" y="569.9" width="4" height="4.83" fill="#ff5252"/>
<rect x="45.5" y="569.9" width="4" height="5.47" fill="#ff5252"/>
<rect x="51.5" y="569.9" width="4" height="6.26" fill="#ff5252"/>
<rect x="56.5" y="569.9" width="4" height="6.45" fill="#ff5252"/>
<rect x="61.5" y="569.9" width="4" height="6.45" fill="#ff5252"/>
<rect x="67.5" y="569.9" width="4" height="6.45" fill="#ff5252"/>
<rect x="72.5" y="569.9" width="4" height="6.1" fill="#ffcdd2"/>
<rect x="78.5" y="569.9" width="4" height="5.6" fill="#ffcdd2"/>
<rect x="83.5" y="569.9" width="4" height="4.86" fill="#ffcdd2"/>
<rect x="89.5" y="569.9" width="4" height="3.98" fill="#ffcdd2"/>
<rect x="94.5" y="569.9" width="4" height="3.19" fill="#ffcdd2"/>
<rect x="100.5" y="569.9" width="4" height="2.1" fill="#ffcdd2"/>
<rect x="105.5" y="569.9" width="4" height="1.18" fill="#ffcdd2"/>
<rect x="111.5" y="570.18" width="4" height="0.72" fill="#26a69a"/>
<rect x="116.5" y="569.82" width="4" height="1.08" fill="#26a69a"/>
<rect x="122.5" y="569.39" width="4" height="1.51" fill="#26a69a"/>
<rect x="127.5" y="569.04" width="4" height="1.86" fill="#26a69a"/>
<rect x="133.5" y="569.1" width="4" height="1.8" fill="#b2dfdb"/>
<rect x="138.5" y="569.18" width="4" height="1.72" fill="#b2dfdb"/>
<rect x="144.5" y="569.29" width="4" height="1.61" fill="#b2dfdb"/>
<rect x="149.5" y="569.37" width="4" height="1.53" fill="#b2dfdb"/>
<rect x="155.5" y="569.48" width="4" height="1.42" fill="#b2dfdb"/>
<rect x="160.5" y="569.63" width="4" height="1.27" fill="#b2dfdb"/>
<rect x="166.5" y="569.88" width="4" height="1.02" fill="#b2dfdb"/>
<rect x="171.5" y="570.09" width="4" height="0.81" fill="#b2dfdb"/>
<rect x="176.5" y="569.9" width="4" height="0.6" fill="#ff5252"/>
<rect x="182.5" y="569.9" width="4" height="0.86" fill="#ff5252"/>
<rect x="187.5" y="569.9" width="4" height="1.07" fill="#ff5252"/>
<rect x="193.5" y="569.9" width="4" height="1.32" fill="#ff5252"/>
<rect x="198.5" y="569.9" width="4" height="1.51" fill="#ff5252"/>
<rect x="204.5" y="569.9" width="4" height="1.47" fill="#ffcdd2"/>
<rect x="209.5" y="569.9" width="4" height="1.44" fill="#ffcdd2"/>
<rect x="215.5" y="569.9" width="4" height="1.4" fill="#ffcdd2"/>
<rect x="220.5" y="569.9" width="4" height="1.36" fill="#ffcdd2"/>
<rect x="226.5" y="569.9" width="4" height="1.32" fill="#ffcdd2"/>
<rect x="231.5" y="569.9" width="4" height="1.29" fill="#ffcdd2"/>
<rect x="237.5" y="569.9" width="4" height="1.25" fill="#ffcdd2"/>
<rect x="242.5" y="569.9" width="4" height="1.09" fill="#ffcdd2"/>
<rect x="248.5" y="569.9" width="4" height="0.89" fill="#ffcdd2"/>
<rect x="253.5" y="569.9" width="4" height="0.71" fill="#ffcdd2"/>
<rect x="259.5" y="570.2" width="4" height="0.7" fill="#26a69a"/>
<rect x="264.5" y="570.03" width="4" height="0.87" fill="#26a69a"/>
<rect x="270.5" y="569.74" width="4" height="1.16" fill="#26a69a"/>
<rect x="275.5" y="569.39" width="4" height="1.51" fill="#26a69a"/>
<rect x="281.5" y="568.97" width="4" height="1.93" fill="#26a69a"/>
<rect x="286.5" y="568.63" width="4" height="2.27" fill="#26a69a"/>
<rect x="291.5" y="568.28" width="4" height="2.62" fill="#26a69a"/>
<rect x="297.5" y="567.86" width="4" height="3.04" fill="#26a69a"/>
<rect x="302.5" y="567.83" width="4" height="3.07" fill="#26a69a"/>
<rect x="308.5" y="567.83" width="4" height="3.07" fill="#26a69a"/>
<rect x="313.5" y="567.83" width="4" height="3.07" fill="#26a69a"/>
<rect x="319.5" y="567.83" width="4" height="3.07" fill="#26a69a"/>
<rect x="324.5" y="567.83" width="4" height="3.07" fill="#26a69a"/>
<rect x="330.5" y="567.83" width="4" height="3.07" fill="#26a69a"/>
<rect x="335.5" y="567.83" width="4" height="3.07" fill="#26a69a"/>
<rect x="341.5" y="567.8" width="4" height="3.1" fill="#26a69a"/>
<rect x="346.5" y="567.79" width="4" height="3.11" fill="#26a69a"/>
<rect x="352.5" y="567.76" width="4" height="3.14" fill="#26a69a"/>
<rect x="357.5" y="567.75" width="4" height="3.15" fill="#26a69a"/>
<rect x="363.5" y="567.73" width="4" height="3.17" fill="#26a69a"/>
<rect x="368.5" y="567.71" width="4" height="3.19" fill="#26a69a"/>
<rect x="374.5" y="567.73" width="4" height="3.17" fill="#b2dfdb"/>
<rect x="379.5" y="567.77" width="4" height="3.13" fill="#b2dfdb"/>
<rect x="385.5" y="567.82" width="4" height="3.08" fill="#b2dfdb"/>
<rect x="390.5" y="567.86" width="4" height="3.04" fill="#b2dfdb"/>
<rect x="396.5" y="567.91" width="4" height="2.99" fill="#b2dfdb"/>
<rect x="401.5" y="567.95" width="4" height="2.95" fill="#b2dfdb"/>
<rect x="406.5" y="568.18" width="4" height="2.72" fill="#b2dfdb"/>
<rect x="412.5" y="568.51" width="4" height="2.39" fill="#b2dfdb"/>
<rect x="417.5" y="568.78" width="4" height="2.12" fill="#b2dfdb"/>
<rect x="423.5" y="569.11" width="4" height="1.79" fill="#b2dfdb"/>
<rect x="428.5" y="569.38" width="4" height="1.52" fill="#b2dfdb"/>
<rect x="434.5" y="569.6" width="4" height="1.3" fill="#b2dfdb"/>
<rect x="439.5" y="569.78" width="4" height="1.12" fill="#b2dfdb"/>
<rect x="445.5" y="569.99" width="4" height="0.91" fill="#b2dfdb"/>
<rect x="450.5" y="570.18" width="4" height="0.72" fill="#b2dfdb"/>
<rect x="456.5" y="569.9" width="4" height="1.05" fill="#ff5252"/>
<rect x="461.5" y="569.9" width="4" height="1.53" fill="#ff5252"/>
<rect x="467.5" y="569.9" width="4" height="2.1" fill="#ff5252"/>
<rect x="472.5" y="569.9" width="4" height="2.55" fill="#ff5252"/>
<rect x="478.5" y="569.9" width="4" height="2.55" fill="#ff5252"/>
<rect x="483.5" y="569.9" width="4" height="2.55" fill="#ff5252"/>
<rect x="489.5" y="569.9" width="4" height="2.55" fill="#ff5252"/>
<rect x="494.5" y="569.9" width="4" height="2.55" fill="#ff5252"/>
<rect x="500.5" y="569.9" width="4" height="2.55" fill="#ff5252"/>
<rect x="505.5" y="569.9" width="4" height="2.55" fill="#ff5252"/>
<rect x="511.5" y="569.9" width="4" height="2.55" fill="#ff5252"/>
<rect x="516.5" y="569.9" width="4" height="2.29" fill="#ffcdd2"/>
<rect x="521.5" y="569.9" width="4" height="1.41" fill="#ffcdd2"/>
<rect x="527.5" y="570.06" width="4" height="0.84" fill="#26a69a"/>
<rect x="532.5" y="569.37" width="4" height="1.53" fill="#26a69a"/>
<rect x="538.5" y="568.91" width="4" height="1.99" fill="#26a69a"/>
<rect x="543.5" y="568.52" width="4" height="2.38" fill="#26a69a"/>
<rect x="549.5" y="568.46" width="4" height="2.44" fill="#26a69a"/>
<rect x="554.5" y="569.04" width="4" height="1.86" fill="#b2dfdb"/>
<rect x="560.5" y="569.74" width="4" height="1.16" fill="#b2dfdb"/>
<rect x="565.5" y="569.93" width="4" height="0.97" fill="#b2dfdb"/>
<rect x="571.5" y="569.64" width="4" height="1.26" fill="#26a69a"/>
<rect x="576.5" y="569.41" width="4" height="1.49" fill="#26a69a"/>
<rect x="582.5" y="568.8" width="4" height="2.1" fill="#26a69a"/>
<rect x="587.5" y="568.36" width="4" height="2.54" fill="#26a69a"/>
<rect x="592.5" y="568.45" width="4" height="2.45" fill="#b2dfdb"/>
<rect x="598.5" y="568.56" width="4" height="2.34" fill="#b2dfdb"/>
<rect x="603.5" y="568.92" width="4" height="1.98" fill="#b2dfdb"/>
<rect x="609.5" y="570.06" width="4" height="0.84" fill="#b2dfdb"/>
<rect x="614.5" y="569.9" width="4" height="2.07" fill="#ff5252"/>
<rect x="620.5" y="569.9" width="4" height="3.92" fill="#ff5252"/>
<rect x="625.5" y="569.9" width="4" height="3.15" fill="#ffcdd2"/>
<rect x="631.5" y="569.9" width="4" height="0.61" fill="#ffcdd2"/>
<rect x="636.5" y="568.27" width="4" height="2.63" fill="#26a69a"/>
<rect x="642.5" y="567.47" width="4" height="3.43" fill="#26a69a"/>
<rect x="647.5" y="566.49" width="4" height="4.41" fill="#26a69a"/>
<rect x="653.5" y="564.61" width="4" height="6.29" fill="#26a69a"/>
<rect x="658.5" y="563.93" width="4" height="6.97" fill="#26a69a"/>
<rect x="664.5" y="563.45" width="4" height="7.45" fill="#26a69a"/>
<rect x="669.5" y="564.23" width="4" height="6.67" fill="#b2dfdb"/>
<rect x="675.5" y="565.46" width="4" height="5.44" fill="#b2dfdb"/>
<rect x="680.5" y="566.52" width="4" height="4.38" fill="#b2dfdb"/>
<rect x="686.5" y="567.84" width="4" height="3.06" fill="#b2dfdb"/>
<rect x="691.5" y="568.95" width="4" height="1.95" fill="#b2dfdb"/>
<rect x="697.5" y="569.9" width="4" height="0.92" fill="#ff5252"/>
<rect x="702.5" y="569.9" width="4" height="2.31" fill="#ff5252"/>
<rect x="708.5" y="569.9" width="4" height="3.51" fill="#ff5252"/>
<rect x="713.5" y="569.9" width="4" height="4.33" fill="#ff5252"/>
<rect x="718.5" y="569.9" width="4" height="4.02" fill="#ffcdd2"/>
<rect x="724.5" y="569.9" width="4" height="2.15" fill="#ffcdd2"/>
<rect x="729.5" y="569.9" width="4" height="1.98" fill="#ffcdd2"/>
<rect x="735.5" y="569.9" width="4" height="2.59" fill="#ff5252"/>
<rect x="740.5" y="569.9" width="4" height="3.5" fill="#ff5252"/>
<rect x="746.5" y="569.9" width="4" height="4.98" fill="#ff5252"/>
<rect x="751.5" y="569.9" width="4" height="6.03" fill="#ff5252"/>
<rect x="757.5" y="569.9" width="4" height="7.02" fill="#ff5252"/>
<rect x="762.5" y="569.9" width="4" height="7" fill="#ffcdd2"/>
<rect x="768.5" y="569.9" width="4" height="6.86" fill="#ffcdd2"/>
<rect x="773.5" y="569.9" width="4" height="6.17" fill="#ffcdd2"/>
<rect x="779.5" y="569.9" width="4" height="4.39" fill="#ffcdd2"/>
<rect x="784.5" y="569.9" width="4" height="3.34" fill="#ffcdd2"/>
<rect x="790.5" y="569.9" width="4" height="2.17" fill="#ffcdd2"/>
<rect x="795.5" y="569.9" width="4" height="1.21" fill="#ffcdd2"/>
<rect x="801.5" y="569.9" width="4" height="0.75" fill="#ffcdd2"/>
<rect x="806.5" y="569.9" width="4" height="1.02" fill="#ff5252"/>
<rect x="812.5" y="569.9" width="4" height="1.34" fill="#ff5252"/>
<rect x="817.5" y="569.9" width="4" height="1.28" fill="#ffcdd2"/>
<rect x="823.5" y="569.9" width="4" height="1.15" fill="#ffcdd2"/>
<rect x="828.5" y="569.9" width="4" height="0.9" fill="#ffcdd2"/>
<rect x="834.5" y="570.24" width="4" height="0.66" fill="#26a69a"/>
<rect x="839.5" y="569.94" width="4" height="0.96" fill="#26a69a"/>
<rect x="845.5" y="570" width="4" height="0.9" fill="#b2dfdb"/>
<rect x="850.5" y="569.9" width="4" height="0.64" fill="#ff5252"/>
<rect x="855.5" y="569.9" width="4" height="0.97" fill="#ff5252"/>
<rect x="861.5" y="569.9" width="4" height="1.14" fill="#ff5252"/>
<rect x="866.5" y="569.9" width="4" height="0.87" fill="#ffcdd2"/>
<rect x="872.5" y="570.18" width="4" height="0.72" fill="#26a69a"/>
<rect x="877.5" y="569.67" width="4" height="1.23" fill="#26a69a"/>
<rect x="883.5" y="569.17" width="4" height="1.73" fill="#26a69a"/>
<rect x="888.5" y="569.51" width="4" height="1.39" fill="#b2dfdb"/>
<rect x="894.5" y="569.91" width="4" height="0.99" fill="#b2dfdb"/>
<rect x="899.5" y="569.9" width="4" height="0.61" fill="#ff5252"/>
<rect x="905.5" y="569.9" width="4" height="1.09" fill="#ff5252"/>
<rect x="910.5" y="569.9" width="4" height="1.56" fill="#ff5252"/>
<rect x="916.5" y="569.9" width="4" height="2.19" fill="#ff5252"/>
<rect x="921.5" y="569.9" width="4" height="2.71" fill="#ff5252"/>
<rect x="927.5" y="569.9" width="4" height="3.13" fill="#ff5252"/>
<rect x="932.5" y="569.9" width="4" height="3.45" fill="#ff5252"/>
<rect x="938.5" y="569.9" width="4" height="3.01" fill="#ffcdd2"/>
<rect x="943.5" y="569.9" width="4" height="2.61" fill="#ffcdd2"/>
<rect x="949.5" y="569.9" width="4" height="2.39" fill="#ffcdd2"/>
<rect x="954.5" y="569.9" width="4" height="2.24" fill="#ffcdd2"/>
<rect x="960.5" y="569.9" width="4" height="2.06" fill="#ffcdd2"/>
<rect x="965.5" y="569.9" width="4" height="1.91" fill="#ffcdd2"/>
<rect x="971.5" y="569.9" width="4" height="1.82" fill="#ffcdd2"/>
<rect x="976.5" y="569.9" width="4" height="1.74" fill="#ffcdd2"/>
<rect x="981.5" y="569.9" width="4" height="1.67" fill="#ffcdd2"/>
<rect x="987.5" y="569.9" width="4" height="1.48" fill="#ffcdd2"/>
<rect x="992.5" y="569.9" width="4" height="1.28" fill="#ffcdd2"/>
<rect x="998.5" y="569.9" width="4" height="1.04" fill="#ffcdd2"/>
<rect x="1003.5" y="569.9" width="4" height="0.84" fill="#ffcdd2"/>
<rect x="1009.5" y="569.9" width="4" height="0.6" fill="#ffcdd2"/>
<rect x="1014.5" y="569.64" width="4" height="1.26" fill="#26a69a"/>
<rect x="1020.5" y="568.83" width="4" height="2.07" fill="#26a69a"/>
<rect x="1025.5" y="568.74" width="4" height="2.16" fill="#26a69a"/>
<rect x="1031.5" y="569.2" width="4" height="1.7" fill="#b2dfdb"/>
<rect x="1036.5" y="569.96" width="4" height="0.94" fill="#b2dfdb"/>
<rect x="1042.5" y="569.9" width="4" height="1.08" fill="#ff5252"/>
<rect x="1047.5" y="569.9" width="4" height="1.7" fill="#ff5252"/>
<rect x="1053.5" y="569.9" width="4" height="2.45" fill="#ff5252"/>
<rect x="1058.5" y="569.9" width="4" height="2.93" fill="#ff5252"/>
<rect x="1064.5" y="569.9" width="4" height="3.32" fill="#ff5252"/>
<rect x="1069.5" y="569.9" width="4" height="1.94" fill="#ffcdd2"/>
<rect x="1075.5" y="569.9" width="4" height="0.78" fill="#ffcdd2"/>
<rect x="1080.5" y="569.81" width="4" height="1.09" fill="#26a69a"/>
<rect x="1086.5" y="569.01" width="4" height="1.89" fill="#26a69a"/>
<rect x="1091.5" y="568.87" width="4" height="2.03" fill="#26a69a"/>
<rect x="1097.5" y="568.83" width="4" height="2.07" fill="#26a69a"/>
<rect x="1102.5" y="569.41" width="4" height="1.49" fill="#b2dfdb"/>
<rect x="1107.5" y="569.99" width="4" height="0.91" fill="#b2dfdb"/>
<rect x="1113.5" y="569.9" width="4" height="0.95" fill="#ff5252"/>
<rect x="1118.5" y="569.9" width="4" height="1.44" fill="#ff5252"/>
<rect x="1124.5" y="569.9" width="4" height="2.03" fill="#ff5252"/>
<rect x="1129.5" y="569.9" width="4" height="2.16" fill="#ff5252"/>
<rect x="1135.5" y="569.9" width="4" height="2.16" fill="#ff5252"/>
<rect x="1140.5" y="569.9" width="4" height="2.14" fill="#ffcdd2"/>
<rect x="1146.5" y="569.9" width="4" height="1.43" fill="#ffcdd2"/>
<rect x="1151.5" y="569.9" width="4" height="0.9" fill="#ffcdd2"/>
<rect x="1157.5" y="570.01" width="4" height="0.89" fill="#26a69a"/>
<rect x="1162.5" y="569.52" width="4" height="1.38" fill="#26a69a"/>
<rect x="1168.5" y="569.05" width="4" height="1.85" fill="#26a69a"/>
<rect x="1173.5" y="568.66" width="4" height="2.24" fill="#26a69a"/>
<rect x="1179.5" y="567.65" width="4" height="3.25" fill="#26a69a"/>
<rect x="1184.5" y="566.75" width="4" height="4.15" fill="#26a69a"/>
<rect x="1190.5" y="565.61" width="4" height="5.29" fill="#26a69a"/>
<rect x="1195.5" y="564.66" width="4" height="6.24" fill="#26a69a"/>
<rect x="1201.5" y="564.37" width="4" height="6.53" fill="#26a69a"/>
<rect x="1206.5" y="564.17" width="4" height="6.73" fill="#26a69a"/>
<rect x="1212.5" y="563.9" width="4" height="7" fill="#26a69a"/>
<rect x="1217.5" y="563.68" width="4" height="7.22" fill="#26a69a"/>
<rect x="1223.5" y="564.38" width="4" height="6.52" fill="#b2dfdb"/>
<rect x="1228.5" y="565" width="4" height="5.9" fill="#b2dfdb"/>
<rect x="1234.5" y="565.51" width="4" height="5.39" fill="#b2dfdb"/>
<rect x="1239.5" y="565.91" width="4" height="4.99" fill="#b2dfdb"/>
<rect x="1244.5" y="566.46" width="4" height="4.44" fill="#b2dfdb"/>
<rect x="1250.5" y="567.44" width="4" height="3.46" fill="#b2dfdb"/>
<rect x="1255.5" y="568.56" width="4" height="2.34" fill="#b2dfdb"/>
<rect x="1261.5" y="568.58" width="4" height="2.32" fill="#b2dfdb"/>
<rect x="1266.5" y="568.27" width="4" height="2.63" fill="#26a69a"/>
<rect x="1272.5" y="568.01" width="4" height="2.89" fill="#26a69a"/>
<rect x="1277.5" y="568.26" width="4" height="2.64" fill="#b2dfdb"/>
<rect x="1283.5" y="568.55" width="4" height="2.35" fill="#b2dfdb"/>
<rect x="1288.5" y="568.66" width="4" height="2.24" fill="#b2dfdb"/>
<rect x="1294.5" y="568.24" width="4" height="2.66" fill="#26a69a"/>
<rect x="1299.5" y="567.89" width="4" height="3.01" fill="#26a69a"/>
<rect x="1305.5" y="567.97" width="4" height="2.93" fill="#b2dfdb"/>
<rect x="1310.5" y="568.1" width="4" height="2.8" fill="#b2dfdb"/>
<rect x="1316.5" y="568.07" width="4" height="2.83" fill="#26a69a"/>
<rect x="1321.5" y="567.59" width="4" height="3.31" fill="#26a69a"/>
<rect x="1327.5" y="567.01" width="4" height="3.89" fill="#26a69a"/>
<rect x="1332.5" y="566.54" width="4" height="4.36" fill="#26a69a"/>
<rect x="1338.5" y="567.17" width="4" height="3.73" fill="#b2dfdb"/>
<rect x="1343.5" y="567.27" width="4" height="3.63" fill="#b2dfdb"/>
<rect x="1349.5" y="566.86" width="4" height="4.04" fill="#26a69a"/>
<rect x="1354.5" y="566.46" width="4" height="4.44" fill="#26a69a"/>
<rect x="1360.5" y="564.98" width="4" height="5.92" fill="#26a69a"/>
<rect x="1365.5" y="563.74" width="4" height="7.16" fill="#26a69a"/>
<rect x="1370.5" y="563.67" width="4" height="7.23" fill="#26a69a"/>
<rect x="1376.5" y="564.07" width="4" height="6.83" fill="#b2dfdb"/>
<rect x="1381.5" y="567.42" width="4" height="3.48" fill="#b2dfdb"/>
<rect x="1387.5" y="569.9" width="4" height="0.8" fill="#ff5252"/>
<rect x="1392.5" y="569.9" width="4" height="3.04" fill="#ff5252"/>
<rect x="1398.5" y="569.9" width="4" height="5.54" fill="#ff5252"/>
<rect x="1403.5" y="569.9" width="4" height="7.77" fill="#ff5252"/>
<rect x="1409.5" y="569.9" width="4" height="10.44" fill="#ff5252"/>
<rect x="1414.5" y="569.9" width="4" height="12.01" fill="#ff5252"/>
<rect x="1420.5" y="569.9" width="4" height="11.16" fill="#ffcdd2"/>
<rect x="1425.5" y="569.9" width="4" height="10.44" fill="#ffcdd2"/>
<rect x="1431.5" y="569.9" width="4" height="9.58" fill="#ffcdd2"/>
<rect x="1436.5" y="569.9" width="4" height="9.68" fill="#ff5252"/>
<rect x="1442.5" y="569.9" width="4" height="9.83" fill="#ff5252"/>
<rect x="1447.5" y="569.9" width="4" height="9.08" fill="#ffcdd2"/>
<rect x="1453.5" y="569.9" width="4" height="7.59" fill="#ffcdd2"/>
<rect x="1458.5" y="569.9" width="4" height="5.21" fill="#ffcdd2"/>
</g>
<line x1="0" y1="570.4" x2="1633" y2="570.4" stroke="#a3a6af" stroke-width="1" stroke-dasharray="7 6"/>
<polyline points="0,561.5 10,561.3 22,564 40,568 55,572 70,574.5 80,575.2 95,574 110,571.5 130,569.5 160,569.2 200,571 240,571.3 270,570.2 300,568.4 336.3,564.7 372.6,562.4 404.5,559.6 430.7,558.7 452.4,559.1 474.2,563.3 503.3,565.1 517,565.5 532.6,563 549.4,560.7 565.1,561.5 578.9,561 588.7,559.5 603.5,558.7 610.3,559.5 622.1,563.9 628,563.6 637.9,559.5 647.7,557.8 655.6,554.6 665.4,551.2 671.3,550.4 680.2,551.1 693.2,552.1 706.3,555.4 716.5,558 720.8,557.9 728.1,556.6 739.7,558.3 751.3,561.9 760,564.8 771.6,567.5 777.4,567.7 790.5,566.3 800.7,564.8 815.2,565.7 826.8,566 844.2,564.4 861.6,565.9 873.3,565.3 884.9,563.7 896.5,564.1 909.5,565.3 924.5,567 934.7,569.2 946.3,569.5 968,570.2 985.5,570.7 1011.6,569.6 1023.2,567.7 1030.5,567 1040.7,567.7 1055.2,569.9 1066,571.7 1074,570.4 1088.6,568.5 1098.7,567.7 1113.3,568.9 1127.8,570.4 1142.3,571.1 1150,570.4 1164.5,568.9 1176.1,567.5 1186.3,565.3 1197.9,561.2 1208.1,559 1219.7,556.1 1231.3,555 1244.4,553.7 1251.6,554 1258.9,554.7 1273.4,553.2 1289.4,553.2 1302.4,551.3 1317,550.6 1334.4,546.7 1343.1,546.7 1356.2,543.8 1367.8,538.7 1377.9,536.2 1388.1,540.9 1400.2,546.5 1415.4,556.7 1433.6,561.8 1444.7,565.4 1453.8,566.8 1460.9,565.4" fill="none" stroke="#2962ff" stroke-width="1.5" stroke-linejoin="round"/>
<polyline points="0,563.5 10,562.8 22,563 40,565 55,567.5 70,570 80,571.3 95,571.8 110,571.4 130,570.5 160,569.8 200,570.3 240,570.8 270,570.5 300,570.3 336.3,566.6 372.6,564.4 404.5,561.4 430.7,559.4 452.4,559.2 474.2,561.8 503.3,563.6 517,564 532.6,563.6 549.4,562.3 565.1,561.7 578.9,561.7 588.7,561 603.5,560 610.3,560 622.1,561.3 628,561.7 637.9,561 647.7,560.3 655.6,559 665.4,556.6 671.3,555.1 680.2,554.4 693.2,553.2 706.3,553.7 716.5,555 728.1,555.8 739.7,556.6 751.3,558 760,559.8 771.6,562.7 781.8,564.4 790.5,564.8 800.7,564.8 815.2,565.1 826.8,565.6 844.2,564.8 861.6,565.4 873.3,565.3 884.9,564.6 896.5,564.4 909.5,564.8 924.5,565.3 934.7,567 946.3,568 968,569.2 985.5,569.9 1011.6,569.6 1023.2,568.9 1030.5,568.2 1040.7,567.7 1055.2,568.5 1066,569.5 1074,569.9 1088.6,569.5 1098.7,568.9 1113.3,568.8 1127.8,569.2 1142.3,569.9 1150,569.9 1164.5,569.5 1176.1,568.8 1186.3,568 1197.9,565.6 1208.1,563.7 1219.7,561.2 1231.3,559 1244.4,556.9 1258.9,555.8 1273.4,555 1289.4,554.4 1302.4,553.2 1317,552.2 1334.4,549.6 1343.1,548.9 1356.2,546.7 1367.8,543.8 1377.9,541.3 1385.2,540.9 1393.9,541.9 1400.2,542.8 1415.4,547.8 1433.6,554.9 1444.7,558.3 1453.8,560.8 1460.9,562" fill="none" stroke="#ff6d00" stroke-width="1.5" stroke-linejoin="round"/>
</g>
<rect x="0" y="0" width="1065" height="6" fill="rgba(255,255,255,0.5)"/>
<rect x="0" y="6" width="299" height="63.5" fill="rgba(255,255,255,0.5)"/>
<rect x="0" y="438" width="301" height="38.6" fill="rgba(255,255,255,0.5)"/>
<rect x="0" y="532.5" width="517" height="40.2" fill="rgba(255,255,255,0.5)"/>
<g fill="#7d7d7d"><path d="M11 541.8 H29 V563.9 H20.7 V548.2 H11 Z"/><circle cx="36.4" cy="545.2" r="3.5"/><path d="M46.2 541.8 H55.6 L47.2 563.9 H37.9 Z"/></g>
<text x="66.5" y="563.9" font-size="30.2" fill="#7d7d7d" font-family="Liberation Sans, Arial, sans-serif" font-weight="bold" textLength="180.5" lengthAdjust="spacingAndGlyphs">TradingView</text>
<circle cx="20" cy="-10.8" r="13" fill="#d99a12"/>
<rect x="108.8" y="0" width="2.6" height="1.4" fill="#2a2e39"/>
<circle cx="449.5" cy="-11.2" r="13" fill="#ffdfe3"/>
<rect x="5.5" y="12.5" width="116" height="50" rx="7.5" fill="#fff" stroke="#f23645" stroke-width="1.1"/>
<text x="21.4" y="32.5" font-size="17.4" fill="#f23645" font-family="Liberation Sans, Arial, sans-serif" textLength="75.3" lengthAdjust="spacingAndGlyphs" stroke="#f23645" stroke-width="0.85">4,076.71</text>
<text x="97.7" y="30.4" font-size="13.8" fill="#f23645" font-family="Liberation Sans, Arial, sans-serif" textLength="7.9" lengthAdjust="spacingAndGlyphs" stroke="#f23645" stroke-width="0.7">0</text>
<text x="63.5" y="52.6" font-size="16.3" fill="#f23645" font-family="Liberation Sans, Arial, sans-serif" text-anchor="middle" textLength="35" lengthAdjust="spacingAndGlyphs" stroke="#f23645" stroke-width="0.35">SELL</text>
<rect x="175.5" y="12.5" width="117" height="50" rx="7.5" fill="#fff" stroke="#2962ff" stroke-width="1.1"/>
<text x="191.9" y="32.5" font-size="17.4" fill="#2962ff" font-family="Liberation Sans, Arial, sans-serif" textLength="75.3" lengthAdjust="spacingAndGlyphs" stroke="#2962ff" stroke-width="0.85">4,077.24</text>
<text x="268.2" y="30.4" font-size="13.8" fill="#2962ff" font-family="Liberation Sans, Arial, sans-serif" textLength="7.9" lengthAdjust="spacingAndGlyphs" stroke="#2962ff" stroke-width="0.7">0</text>
<text x="234" y="52.6" font-size="16.3" fill="#2962ff" font-family="Liberation Sans, Arial, sans-serif" text-anchor="middle" textLength="29.7" lengthAdjust="spacingAndGlyphs" stroke="#2962ff" stroke-width="0.35">BUY</text>
<text x="135" y="42.8" font-size="15.3" fill="#131722" font-family="Liberation Serif, Times New Roman, serif" textLength="27.8" lengthAdjust="spacingAndGlyphs">53.0</text>
<text x="7" y="466.9" font-size="19.6" fill="#434651" font-family="Liberation Sans, Arial, sans-serif" textLength="100.1" lengthAdjust="spacingAndGlyphs" stroke="#434651" stroke-width="0.35">RSI 14 close</text>
<circle cx="133.7" cy="460.3" r="13.3" fill="rgba(120,80,255,0.2)"/>
<g transform="translate(133.7 460.3)"><g fill="none" stroke="#5b16f8" stroke-width="2.7"><path d="M-7.7 -3.1 A8.3 8.3 0 0 1 7.3 -3.9"/><path d="M7.7 3.1 A8.3 8.3 0 0 1 -7.3 3.9"/></g><g fill="#5b16f8"><path d="M3.2 -2.3 L10.2 -3.7 L7.3 0.9 Z"/><path d="M-3.2 2.3 L-10.2 3.7 L-7.3 -0.9 Z"/></g></g>
<text x="159.6" y="466.7" font-size="19.6" fill="#000" font-family="Liberation Sans, Arial, sans-serif" textLength="46.4" lengthAdjust="spacingAndGlyphs" stroke="#000" stroke-width="0.3">56.62</text>
<g transform="translate(222.2 466) skewX(-3) scale(1.2 1)"><text x="0" y="0" font-size="18.6" fill="#131313" text-anchor="middle" font-family="DejaVu Math TeX Gyre, DejaVu Serif, DejaVu Sans, serif">∅</text></g>
<g transform="translate(244.2 466) skewX(-3) scale(1.2 1)"><text x="0" y="0" font-size="18.6" fill="#131313" text-anchor="middle" font-family="DejaVu Math TeX Gyre, DejaVu Serif, DejaVu Sans, serif">∅</text></g>
<g transform="translate(266.3 466) skewX(-3) scale(1.2 1)"><text x="0" y="0" font-size="18.6" fill="#131313" text-anchor="middle" font-family="DejaVu Math TeX Gyre, DejaVu Serif, DejaVu Sans, serif">∅</text></g>
<g transform="translate(288.2 466) skewX(-3) scale(1.2 1)"><text x="0" y="0" font-size="18.6" fill="#131313" text-anchor="middle" font-family="DejaVu Math TeX Gyre, DejaVu Serif, DejaVu Sans, serif">∅</text></g>
<text x="6.6" y="561.4" font-size="19.4" fill="#434651" font-family="Liberation Sans, Arial, sans-serif" textLength="249.7" lengthAdjust="spacingAndGlyphs" stroke="#434651" stroke-width="0.3">MACD 12 26 close 9 EMA EMA</text>
<circle cx="282.4" cy="555.0" r="13.3" fill="rgba(120,80,255,0.2)"/>
<g transform="translate(282.4 555.0)"><g fill="none" stroke="#5b16f8" stroke-width="2.7"><path d="M-7.7 -3.1 A8.3 8.3 0 0 1 7.3 -3.9"/><path d="M7.7 3.1 A8.3 8.3 0 0 1 -7.3 3.9"/></g><g fill="#5b16f8"><path d="M3.2 -2.3 L10.2 -3.7 L7.3 0.9 Z"/><path d="M-3.2 2.3 L-10.2 3.7 L-7.3 -0.9 Z"/></g></g>
<text x="308.4" y="561.6" font-size="19.2" fill="#ffcdd2" font-family="Liberation Sans, Arial, sans-serif" textLength="67" lengthAdjust="spacingAndGlyphs" stroke="#ffcdd2" stroke-width="0.3">−18.923</text>
<text x="386" y="561.6" font-size="19.2" fill="#2962ff" font-family="Liberation Sans, Arial, sans-serif" textLength="57" lengthAdjust="spacingAndGlyphs" stroke="#2962ff" stroke-width="0.3">22.769</text>
<text x="452.4" y="561.6" font-size="19.2" fill="#ff6d00" font-family="Liberation Sans, Arial, sans-serif" textLength="57.4" lengthAdjust="spacingAndGlyphs" stroke="#ff6d00" stroke-width="0.3">41.693</text>
<rect x="1634" y="0" width="96" height="620" fill="#fff"/>
<rect x="1639.5" y="-6" width="100" height="13.4" rx="4.5" fill="#fff" stroke="#e7e9ec" stroke-width="1"/>
<text x="1647.1" y="26.3" font-size="17.6" fill="#363a45" font-family="Liberation Sans, Arial, sans-serif" textLength="78.1" lengthAdjust="spacingAndGlyphs" stroke="#363a45" stroke-width="0.25">4,600.000</text>
<text x="1647.1" y="74.8" font-size="17.6" fill="#363a45" font-family="Liberation Sans, Arial, sans-serif" textLength="78.1" lengthAdjust="spacingAndGlyphs" stroke="#363a45" stroke-width="0.25">4,400.000</text>
<text x="1647.1" y="124.8" font-size="17.6" fill="#363a45" font-family="Liberation Sans, Arial, sans-serif" textLength="78.1" lengthAdjust="spacingAndGlyphs" stroke="#363a45" stroke-width="0.25">4,200.000</text>
<text x="1647.1" y="223.9" font-size="17.6" fill="#363a45" font-family="Liberation Sans, Arial, sans-serif" textLength="78.1" lengthAdjust="spacingAndGlyphs" stroke="#363a45" stroke-width="0.25">3,800.000</text>
<text x="1647.1" y="273.5" font-size="17.6" fill="#363a45" font-family="Liberation Sans, Arial, sans-serif" textLength="78.1" lengthAdjust="spacingAndGlyphs" stroke="#363a45" stroke-width="0.25">3,600.000</text>
<text x="1647.1" y="421.9" font-size="17.6" fill="#363a45" font-family="Liberation Sans, Arial, sans-serif" textLength="78.1" lengthAdjust="spacingAndGlyphs" stroke="#363a45" stroke-width="0.25">3,000.000</text>
<text x="1647.1" y="461.9" font-size="17.6" fill="#363a45" font-family="Liberation Sans, Arial, sans-serif" textLength="43.4" lengthAdjust="spacingAndGlyphs" stroke="#363a45" stroke-width="0.25">80.00</text>
<text x="1647.1" y="514.6" font-size="17.6" fill="#363a45" font-family="Liberation Sans, Arial, sans-serif" textLength="43.4" lengthAdjust="spacingAndGlyphs" stroke="#363a45" stroke-width="0.25">40.00</text>
<text x="1647.1" y="576.8" font-size="17.6" fill="#363a45" font-family="Liberation Sans, Arial, sans-serif" textLength="43.6" lengthAdjust="spacingAndGlyphs" stroke="#363a45" stroke-width="0.25">0.000</text>
<rect x="1634" y="137" width="96" height="47.6" fill="#26a69a"/>
<text x="1646.8" y="155.9" font-size="18" fill="#fff" font-family="Liberation Sans, Arial, sans-serif" textLength="79" lengthAdjust="spacingAndGlyphs" stroke="#fff" stroke-width="0.65">4,076.970</text>
<text x="1648" y="177.1" font-size="18" fill="#c6e7e3" font-family="Liberation Sans, Arial, sans-serif" textLength="68.8" lengthAdjust="spacingAndGlyphs" stroke="#c6e7e3" stroke-width="0.65">12:34:27</text>
<rect x="1634" y="242" width="96" height="26.5" fill="#000"/>
<rect x="1634" y="282" width="96" height="51.7" fill="#000"/>
<rect x="1634" y="341" width="96" height="51.8" fill="#000"/>
<text x="1647.7" y="260.8" font-size="18" fill="#fff" font-family="Liberation Sans, Arial, sans-serif" textLength="78.4" lengthAdjust="spacingAndGlyphs" stroke="#fff" stroke-width="0.65">3,652.346</text>
<text x="1647.7" y="300.9" font-size="18" fill="#fff" font-family="Liberation Sans, Arial, sans-serif" textLength="78.4" lengthAdjust="spacingAndGlyphs" stroke="#fff" stroke-width="0.65">3,493.812</text>
<text x="1647.7" y="325.9" font-size="18" fill="#fff" font-family="Liberation Sans, Arial, sans-serif" textLength="78.4" lengthAdjust="spacingAndGlyphs" stroke="#fff" stroke-width="0.65">3,426.447</text>
<text x="1647.7" y="359.9" font-size="18" fill="#fff" font-family="Liberation Sans, Arial, sans-serif" textLength="78.4" lengthAdjust="spacingAndGlyphs" stroke="#fff" stroke-width="0.65">3,254.653</text>
<text x="1647.7" y="384.9" font-size="18" fill="#fff" font-family="Liberation Sans, Arial, sans-serif" textLength="78.4" lengthAdjust="spacingAndGlyphs" stroke="#fff" stroke-width="0.65">3,164.826</text>
<rect x="0" y="434" width="1730" height="2" fill="#e0e3eb"/>
<rect x="0" y="529.5" width="1730" height="2" fill="#e0e3eb"/>
<rect x="1633" y="0" width="1" height="620" fill="#50535e"/>
<rect x="0" y="585" width="1730" height="1" fill="#50535e"/>
<rect x="0" y="586" width="1633" height="34" fill="#fff"/>
<text x="5.2" y="613" font-size="17.6" fill="#434651" font-family="Liberation Sans, Arial, sans-serif" textLength="28.6" lengthAdjust="spacingAndGlyphs" stroke="#434651" stroke-width="0.3">Nov</text>
<text x="120" y="613" font-size="17.6" fill="#434651" font-family="Liberation Sans, Arial, sans-serif" textLength="28.6" lengthAdjust="spacingAndGlyphs" stroke="#434651" stroke-width="0.3">Dec</text>
<text x="356.35" y="613" font-size="17.6" fill="#434651" font-family="Liberation Sans, Arial, sans-serif" textLength="27.9" lengthAdjust="spacingAndGlyphs" stroke="#434651" stroke-width="0.3">Feb</text>
<text x="465.2" y="613" font-size="17.6" fill="#434651" font-family="Liberation Sans, Arial, sans-serif" textLength="28.6" lengthAdjust="spacingAndGlyphs" stroke="#434651" stroke-width="0.3">Mar</text>
<text x="581.25" y="613" font-size="17.6" fill="#434651" font-family="Liberation Sans, Arial, sans-serif" textLength="26.5" lengthAdjust="spacingAndGlyphs" stroke="#434651" stroke-width="0.3">Apr</text>
<text x="694" y="613" font-size="17.6" fill="#434651" font-family="Liberation Sans, Arial, sans-serif" textLength="31.2" lengthAdjust="spacingAndGlyphs" stroke="#434651" stroke-width="0.3">May</text>
<text x="816.55" y="613" font-size="17.6" fill="#434651" font-family="Liberation Sans, Arial, sans-serif" textLength="26.9" lengthAdjust="spacingAndGlyphs" stroke="#434651" stroke-width="0.3">Jun</text>
<text x="934.05" y="613" font-size="17.6" fill="#434651" font-family="Liberation Sans, Arial, sans-serif" textLength="22.7" lengthAdjust="spacingAndGlyphs" stroke="#434651" stroke-width="0.3">Jul</text>
<text x="1056.95" y="613" font-size="17.6" fill="#434651" font-family="Liberation Sans, Arial, sans-serif" textLength="28.5" lengthAdjust="spacingAndGlyphs" stroke="#434651" stroke-width="0.3">Aug</text>
<text x="1172.5" y="613" font-size="17.6" fill="#434651" font-family="Liberation Sans, Arial, sans-serif" textLength="27.6" lengthAdjust="spacingAndGlyphs" stroke="#434651" stroke-width="0.3">Sep</text>
<text x="1293.4" y="613" font-size="17.6" fill="#434651" font-family="Liberation Sans, Arial, sans-serif" textLength="27.2" lengthAdjust="spacingAndGlyphs" stroke="#434651" stroke-width="0.3">Oct</text>
<text x="1418.7" y="613" font-size="17.6" fill="#434651" font-family="Liberation Sans, Arial, sans-serif" textLength="28.6" lengthAdjust="spacingAndGlyphs" stroke="#434651" stroke-width="0.3">Nov</text>
<text x="1528.2" y="613" font-size="17.6" fill="#434651" font-family="Liberation Sans, Arial, sans-serif" textLength="28.6" lengthAdjust="spacingAndGlyphs" stroke="#434651" stroke-width="0.3">Dec</text>
<text x="229.7" y="613" font-size="17.6" fill="#434651" font-family="Liberation Sans, Arial, sans-serif" font-weight="bold" textLength="39.6" lengthAdjust="spacingAndGlyphs">2025</text>
<g fill="none" stroke="#131722" stroke-width="1.6"><path d="M1676.6 606.9 L1681.9 597.8 H1692.3 L1697.6 606.9 L1692.3 616 H1681.9 Z"/><circle cx="1687.1" cy="606.9" r="2.9"/></g>
</svg>
</body></html>
